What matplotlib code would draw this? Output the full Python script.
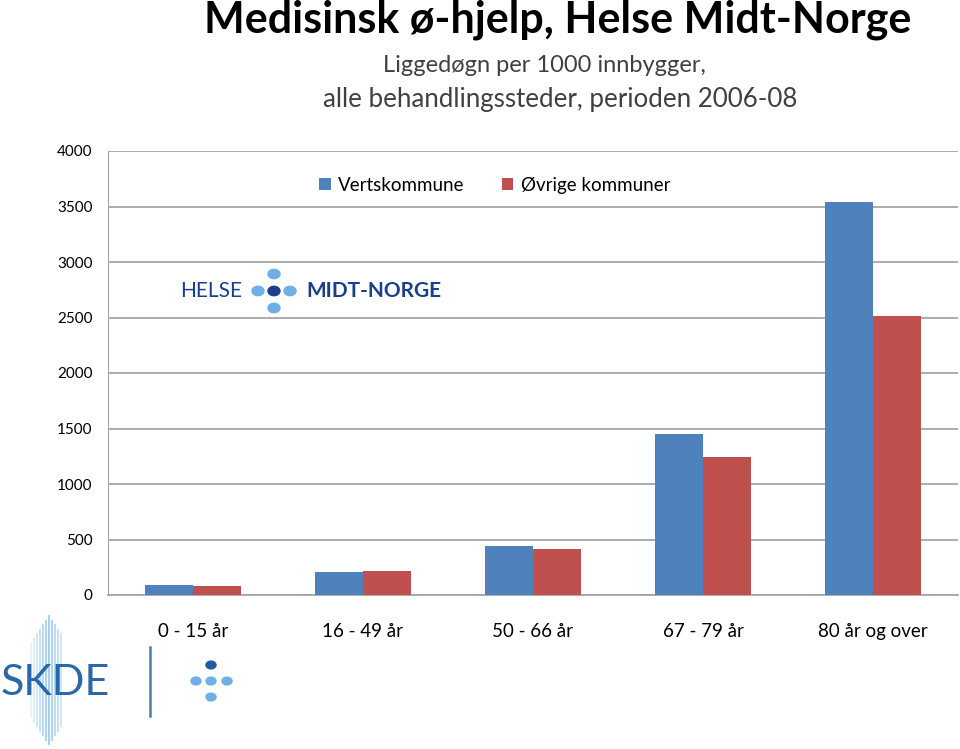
import numpy as np
import matplotlib
matplotlib.use("Agg")
import matplotlib.pyplot as plt
from matplotlib.patches import Circle, Rectangle
from matplotlib.lines import Line2D

plt.rcParams['font.family'] = ['Lato', 'DejaVu Sans']

# data
aldersgrupper = ["0 - 15 år", "16 - 49 år", "50 - 66 år", "67 - 79 år", "80 år og over"]
vertskommune = [90, 208, 440, 1450, 3545]
ovrige_kommuner = [85, 216, 412, 1245, 2510]
serie_navn = ["Vertskommune", "Øvrige kommuner"]
yticks = [0, 500, 1000, 1500, 2000, 2500, 3000, 3500, 4000]

BLUE = "#4F81BD"
RED = "#C0504D"
NAVY = "#1B3F8B"
LIGHT = "#6FAEE6"

W, H = 960, 749
fig = plt.figure(figsize=(W / 100, H / 100), dpi=100)


def fx(x):
    return x / W


def fy(y):
    return 1 - y / H


ax = fig.add_axes([fx(108), fy(595), (958 - 108) / W, (595 - 151) / H])
x = np.arange(len(aldersgrupper))
bw = 0.285
ax.bar(x - bw / 2, vertskommune, bw, color=BLUE, label=serie_navn[0], zorder=3)
ax.bar(x + bw / 2, ovrige_kommuner, bw, color=RED, label=serie_navn[1], zorder=3)
ax.set_xlim(-0.5, len(aldersgrupper) - 0.5)
ax.set_ylim(0, 4000)
ax.set_yticks(yticks)
ax.set_yticklabels([str(v) for v in yticks], fontsize=11)
ax.set_xticks(x)
ax.set_xticklabels(aldersgrupper, fontsize=13.5)
ax.tick_params(axis='y', length=0, pad=11)
ax.tick_params(axis='x', length=0, pad=20)
ax.grid(axis='y', color="#A6A6A6", lw=1.3, zorder=0)
for side in ['top', 'right']:
    ax.spines[side].set_visible(False)
ax.spines['left'].set_color("#A6A6A6")
ax.spines['bottom'].set_color("#A6A6A6")
ax.spines['bottom'].set_linewidth(1.3)
ax.legend(loc='center', bbox_to_anchor=(0.455, 0.923), ncol=2, frameon=False,
          fontsize=13.5, handlelength=0.6, handleheight=0.6, columnspacing=2.0,
          handletextpad=0.4)

# titles
fig.text(fx(558), fy(20), "Medisinsk ø-hjelp, Helse Midt-Norge", ha='center', va='center',
         fontsize=31, fontweight='bold')
fig.text(fx(544), fy(66), "Liggedøgn per 1000 innbygger,", ha='center', va='center',
         fontsize=17, color="#404040")
fig.text(fx(560), fy(99), "alle behandlingssteder, perioden 2006-08", ha='center', va='center',
         fontsize=18.6, color="#404040")

# Helse Midt-Norge logo inside the plot
fig.text(fx(180), fy(291), "HELSE", ha='left', va='center', fontsize=15, color=NAVY)
fig.text(fx(306), fy(291), "MIDT-NORGE", ha='left', va='center', fontsize=15,
         fontweight='bold', color=NAVY)
for cx, cy, c in [(274, 291, NAVY), (258, 291, LIGHT), (290, 291, LIGHT),
                  (274, 274, LIGHT), (274, 308, LIGHT)]:
    fig.add_artist(Circle((fx(cx), fy(cy)), 6 / W, color=c, transform=fig.transFigure))

# SKDE logo bottom left
for xs in np.arange(30, 62, 3):
    a = 0.2 + 0.6 * (1 - abs(xs - 48) / 18)
    hh = 130 - abs(xs - 48) * 3
    fig.add_artist(Rectangle((fx(xs), fy(680 + hh / 2)), 1.6 / W, hh / H, color="#8EC3EC",
                             alpha=a, transform=fig.transFigure, lw=0))
fig.text(fx(1), fy(683), "SKDE", ha='left', va='center', fontsize=31, color="#2A67A8")
fig.add_artist(Line2D([fx(150), fx(150)], [fy(647), fy(716)], color="#4D7FA5", lw=1.8,
                      transform=fig.transFigure))
for cx, cy, c in [(211, 665, "#1F5A9F"), (196, 681, LIGHT), (211, 681, LIGHT),
                  (227, 681, LIGHT), (211, 697, LIGHT)]:
    fig.add_artist(Circle((fx(cx), fy(cy)), 5 / W, color=c, transform=fig.transFigure))

fig.savefig("out.png", dpi=100)
